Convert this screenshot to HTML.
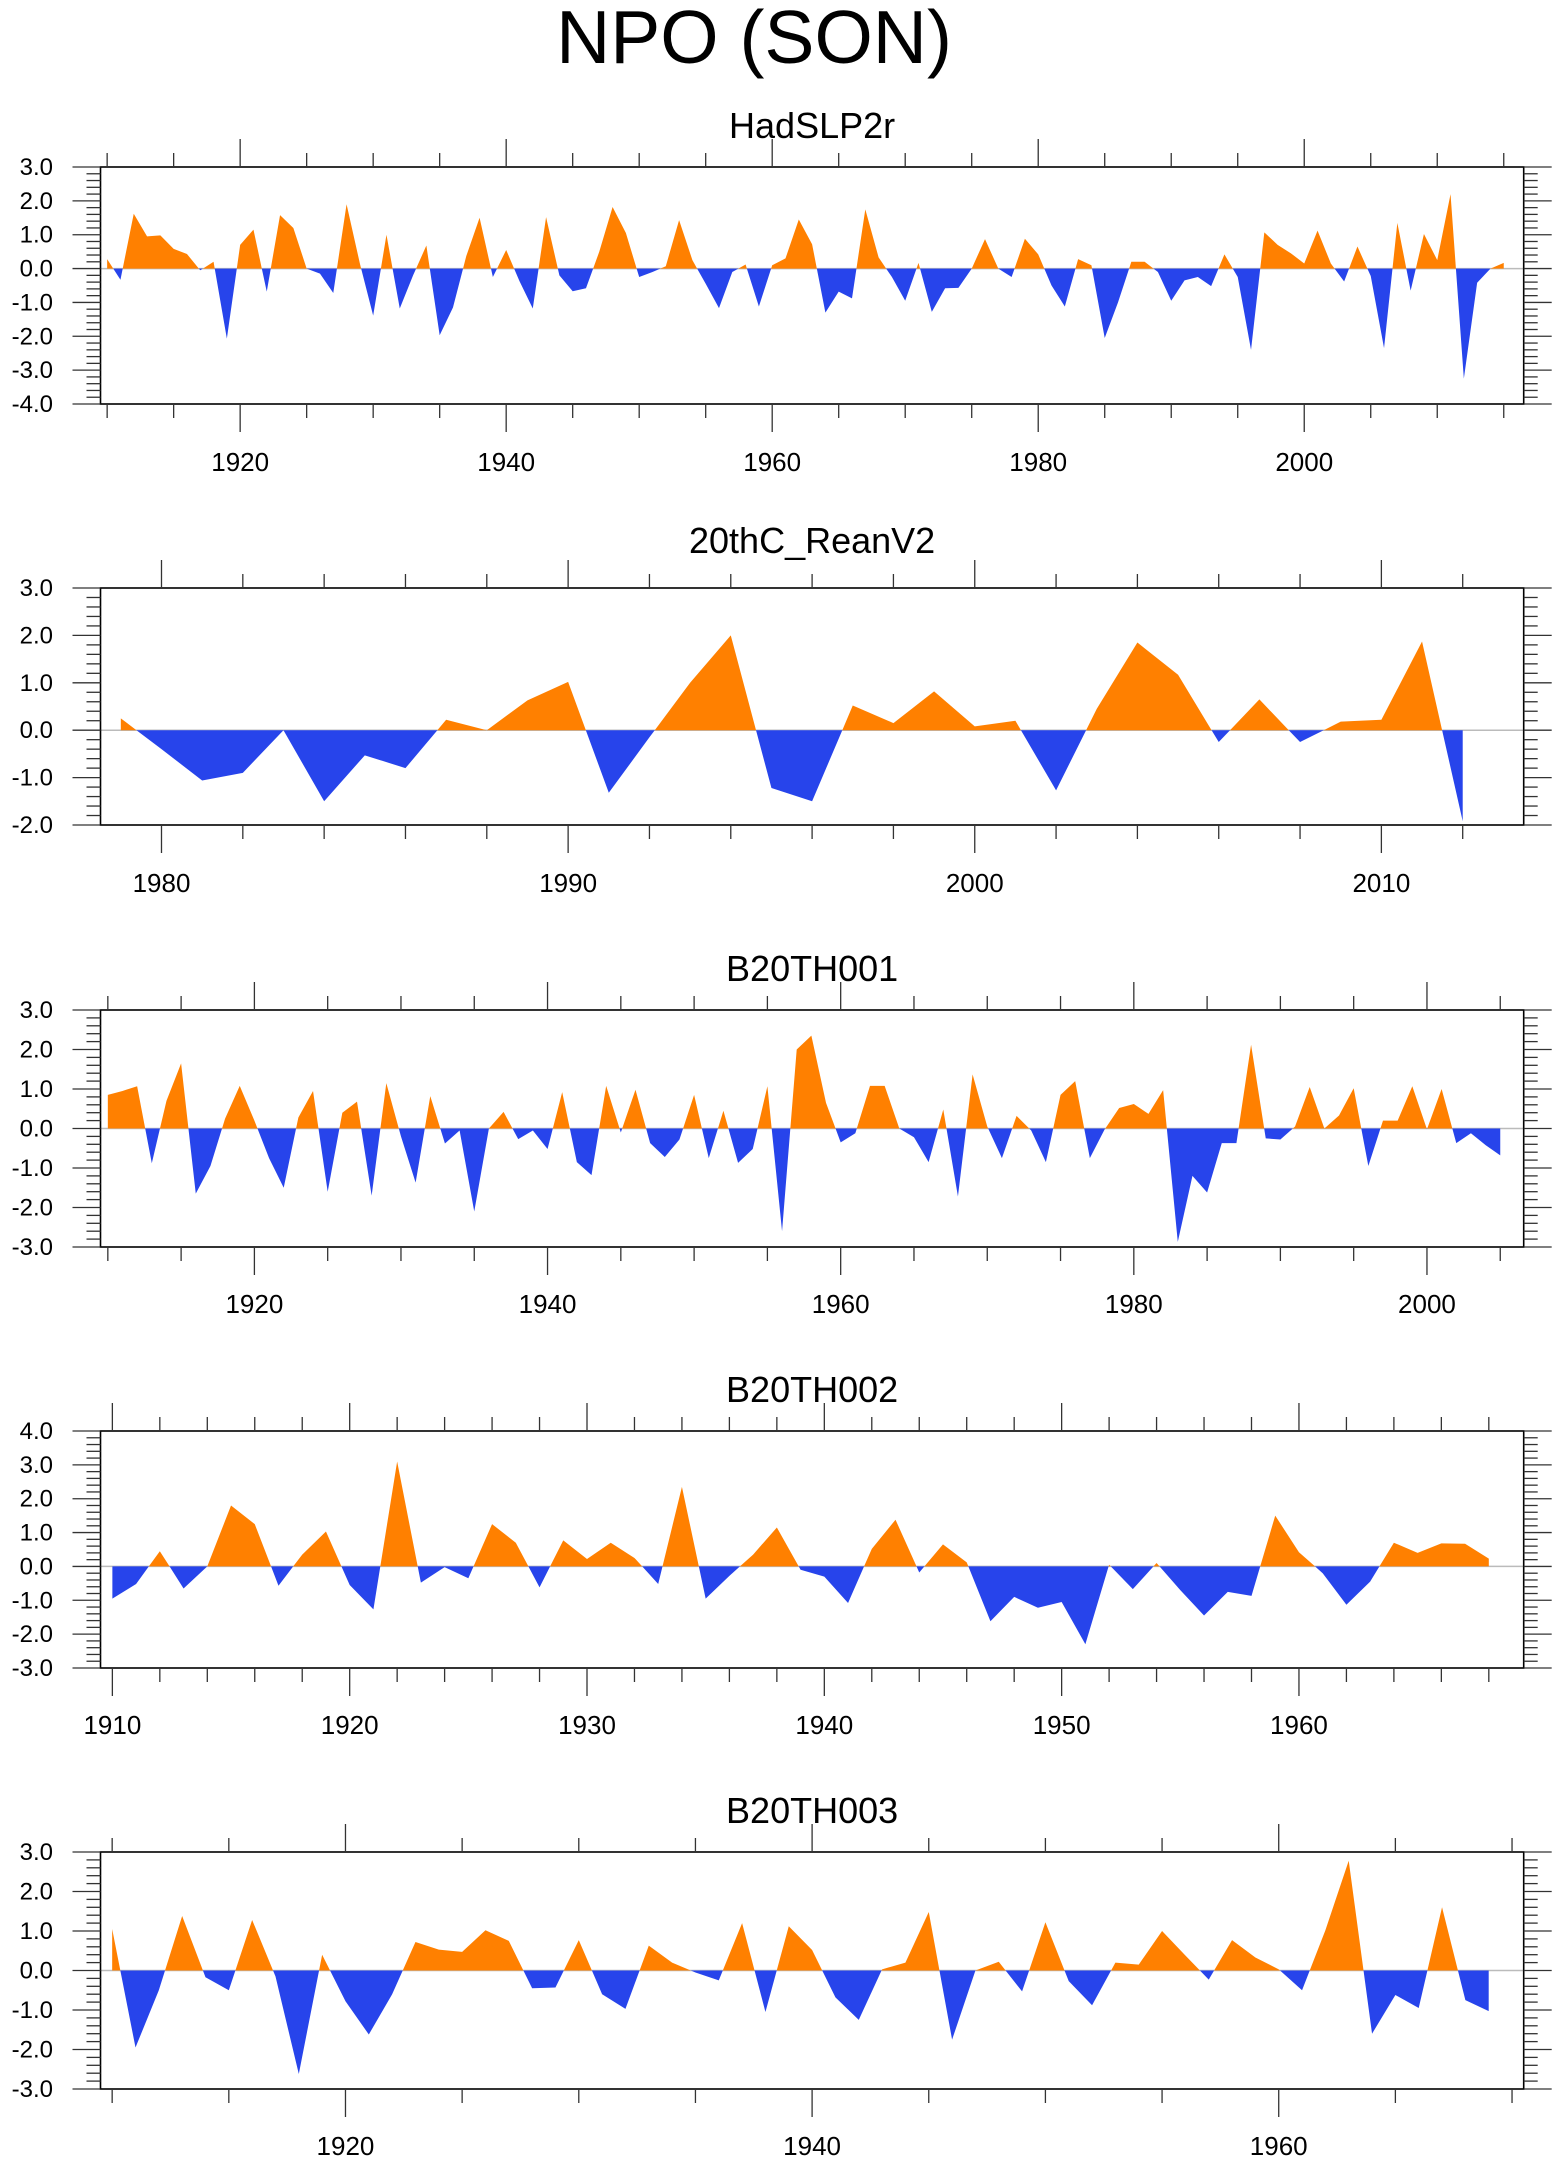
<!DOCTYPE html>
<html><head><meta charset="utf-8"><title>NPO (SON)</title>
<style>
html,body{margin:0;padding:0;background:#fff;}
svg{display:block;font-family:"Liberation Sans",Arial,sans-serif;}
</style></head>
<body>
<svg id="chart" width="1560" height="2165" viewBox="0 0 1560 2165" xmlns="http://www.w3.org/2000/svg">
<rect x="0" y="0" width="1560" height="2165" fill="#fff"/>
<text x="754" y="63" font-size="75" text-anchor="middle" fill="#000">NPO (SON)</text>
</svg>
<script>
// ---- data ----
const titles = ["HadSLP2r", "20thC_ReanV2", "B20TH001", "B20TH002", "B20TH003"];
const startYears = [1910, 1979, 1910, 1910, 1910];
const hadslp2r = [0.28,-0.33,1.62,0.95,0.98,0.58,0.43,-0.05,0.2,-2.07,
0.7,1.15,-0.68,1.58,1.2,0.0,-0.15,-0.72,1.9,0.15,
-1.39,1.0,-1.18,-0.2,0.68,-1.97,-1.15,0.37,1.5,-0.25,
0.55,-0.37,-1.18,1.52,-0.2,-0.67,-0.58,0.5,1.82,1.05,
-0.25,-0.1,0.07,1.43,0.25,-0.45,-1.17,-0.1,0.12,-1.12,
0.1,0.3,1.45,0.72,-1.3,-0.68,-0.88,1.75,0.33,-0.25,
-0.95,0.17,-1.28,-0.58,-0.57,0.0,0.87,0.0,-0.25,0.88,
0.42,-0.5,-1.12,0.28,0.1,-2.05,-1.0,0.2,0.2,-0.1,
-0.95,-0.35,-0.25,-0.52,0.42,-0.25,-2.4,1.07,0.7,0.45,
0.15,1.12,0.15,-0.38,0.65,-0.22,-2.35,1.35,-0.65,1.02,
0.25,2.2,-3.25,-0.42,0.0,0.17];
const reanV2 = [0.25,-0.4,-1.06,-0.9,0.0,-1.5,-0.53,-0.8,0.22,0.0,
0.63,1.02,-1.32,-0.15,1.0,2.0,-1.22,-1.5,0.52,0.15,
0.82,0.08,0.2,-1.27,0.45,1.85,1.17,-0.25,0.65,-0.25,
0.18,0.22,1.87,-1.92];
const b20th001 = [0.85,0.95,1.07,-0.88,0.7,1.65,-1.65,-0.95,0.25,1.08,
0.2,-0.75,-1.5,0.28,0.95,-1.6,0.4,0.68,-1.7,1.15,
-0.2,-1.37,0.82,-0.38,-0.05,-2.1,0.0,0.42,-0.27,-0.05,
-0.52,0.92,-0.85,-1.18,1.08,-0.1,0.98,-0.37,-0.72,-0.28,
0.85,-0.75,0.45,-0.87,-0.52,1.07,-2.6,2.0,2.35,0.65,
-0.35,-0.12,1.08,1.08,0.0,-0.22,-0.85,0.48,-1.72,1.37,
0.05,-0.75,0.32,-0.05,-0.85,0.85,1.2,-0.75,-0.03,0.52,
0.62,0.37,0.97,-2.87,-1.2,-1.62,-0.37,-0.37,2.12,-0.25,
-0.28,0.05,1.05,0.0,0.33,1.02,-0.95,0.2,0.2,1.07,
-0.02,1.0,-0.37,-0.12,-0.42,-0.68];
const b20th002 = [-0.95,-0.52,0.45,-0.65,0.0,1.8,1.25,-0.57,0.35,1.03,
-0.55,-1.27,3.1,-0.48,-0.02,-0.35,1.25,0.7,-0.62,0.77,
0.22,0.7,0.25,-0.52,2.35,-0.95,-0.28,0.35,1.15,-0.1,
-0.3,-1.08,0.52,1.38,-0.18,0.65,0.12,-1.62,-0.9,-1.22,
-1.05,-2.3,0.05,-0.67,0.1,-0.7,-1.45,-0.75,-0.87,1.5,
0.42,-0.2,-1.13,-0.45,0.7,0.4,0.68,0.67,0.23];
const b20th003 = [1.05,-1.95,-0.5,1.38,-0.17,-0.5,1.28,-0.15,-2.62,0.4,
-0.78,-1.62,-0.6,0.72,0.53,0.47,1.02,0.75,-0.45,-0.43,
0.77,-0.6,-0.97,0.63,0.2,-0.05,-0.25,1.2,-1.05,1.12,
0.52,-0.68,-1.25,0.03,0.2,1.48,-1.75,0.0,0.22,-0.53,
1.22,-0.27,-0.88,0.2,0.15,1.0,0.38,-0.23,0.77,0.33,
0.03,-0.5,1.02,2.78,-1.6,-0.62,-0.95,1.6,-0.75,-1.03];
const seriesList = [hadslp2r, reanV2, b20th001, b20th002, b20th003];
const xLabels1 = [1920, 1940, 1960, 1980, 2000];
const xLabels2 = [1980, 1990, 2000, 2010];
const xLabels3 = [1920, 1940, 1960, 1980, 2000];
const xLabels4 = [1910, 1920, 1930, 1940, 1950, 1960];
const xLabels5 = [1920, 1940, 1960];
const xLabelSets = [xLabels1, xLabels2, xLabels3, xLabels4, xLabels5];
const yLimits = [[-4, 3], [-2, 3], [-3, 3], [-3, 4], [-3, 3]];
const xLimits = [[1909.5, 2016.5], [1978.5, 2013.5], [1909.5, 2006.6], [1909.5, 1969.47], [1909.5, 1970.5]];
const minorSteps = [5, 2, 5, 2, 5];
const majorSteps = [20, 10, 20, 10, 20];

// ---- layout ----
const L = 100.5, R = 1523.7;
const tops = [167, 588, 1010, 1431, 1852];
const bottoms = [404, 825, 1247, 1668, 2089];
const titleY = [138, 553, 981, 1402, 1823];
const labelY = [471, 892, 1313, 1734, 2155];
const NS = "http://www.w3.org/2000/svg";
const svg = document.getElementById('chart');
function mk(tag, attrs, parent) {
  const e = document.createElementNS(NS, tag);
  for (const k in attrs) e.setAttribute(k, attrs[k]);
  (parent || svg).appendChild(e);
  return e;
}

for (let p = 0; p < 5; p++) {
  const top = tops[p], bot = bottoms[p];
  const [ymin, ymax] = yLimits[p];
  const [xmin, xmax] = xLimits[p];
  const xs = v => L + (v - xmin) / (xmax - xmin) * (R - L);
  const ys = v => top + (ymax - v) / (ymax - ymin) * (bot - top);
  const g = mk('g', {});
  
  

  const t = mk('text', {x: (L + R) / 2, y: titleY[p], 'font-size': 36, 'text-anchor': 'middle', fill: '#000'}, g);
  t.textContent = titles[p];
  
  

  // zero line
  const z = mk('line', {x1: L, x2: R, y1: ys(0), y2: ys(0), stroke: '#bbb', 'stroke-width': 1.5}, g);
  
  

  // series with crossings
  const vals = seriesList[p];
  const pts = [];
  for (let i = 0; i < vals.length; i++) {
    const yr = startYears[p] + i;
    if (i > 0) {
      const a = vals[i - 1], b = vals[i];
      if ((a > 0 && b < 0) || (a < 0 && b > 0)) {
        const f = a / (a - b);
        pts.push([yr - 1 + f, 0]);
      }
    }
    pts.push([yr, vals[i]]);
  }
  function poly(sel, color, name) {
    let d = 'M' + xs(pts[0][0]).toFixed(2) + ',' + ys(0).toFixed(2);
    for (const q of pts) d += 'L' + xs(q[0]).toFixed(2) + ',' + ys(sel(q[1])).toFixed(2);
    d += 'L' + xs(pts[pts.length - 1][0]).toFixed(2) + ',' + ys(0).toFixed(2) + 'Z';
    const e = mk('path', {d: d, fill: color, stroke: 'none'}, g);
    
    
  }
  poly(v => Math.max(v, 0), '#FF8000', 'positive-fill');
  poly(v => Math.min(v, 0), '#2744EB', 'negative-fill');

  // frame
  const fr = mk('rect', {x: L, y: top, width: R - L, height: bot - top, fill: 'none', stroke: '#000', 'stroke-width': 1.6}, g);
  
  

  // x ticks
  const xStart = Math.ceil(xmin / minorSteps[p]) * minorSteps[p];
  for (let yr = xStart; yr <= xmax; yr += minorSteps[p]) {
    const major = yr % majorSteps[p] === 0;
    const len = major ? 28 : 14;
    const x = xs(yr);
    const a = mk('line', {x1: x, x2: x, y1: top - len, y2: top, stroke: '#333', 'stroke-width': 1.3}, g);
    
    
    const b = mk('line', {x1: x, x2: x, y1: bot, y2: bot + len, stroke: '#333', 'stroke-width': 1.3}, g);
    
    
  }
  for (const lab of xLabelSets[p]) {
    const tx = mk('text', {x: xs(lab), y: labelY[p], 'font-size': 26, 'text-anchor': 'middle', fill: '#000'}, g);
    tx.textContent = String(lab);
    
    
  }
  // y ticks
  for (let k = Math.round(ymin * 5); k <= Math.round(ymax * 5); k++) {
    const v = k / 5;
    const major = k % 5 === 0;
    const len = major ? 28 : 14;
    const y = ys(v);
    const a = mk('line', {x1: L - len, x2: L, y1: y, y2: y, stroke: '#333', 'stroke-width': 1.3}, g);
    
    
    const b = mk('line', {x1: R, x2: R + len, y1: y, y2: y, stroke: '#333', 'stroke-width': 1.3}, g);
    
    
    if (major) {
      const ty = mk('text', {x: 53, y: y + 8, 'font-size': 24, 'text-anchor': 'end', fill: '#000'}, g);
      ty.textContent = v.toFixed(1);
      
      
    }
  }
}
</script>
</body></html>
